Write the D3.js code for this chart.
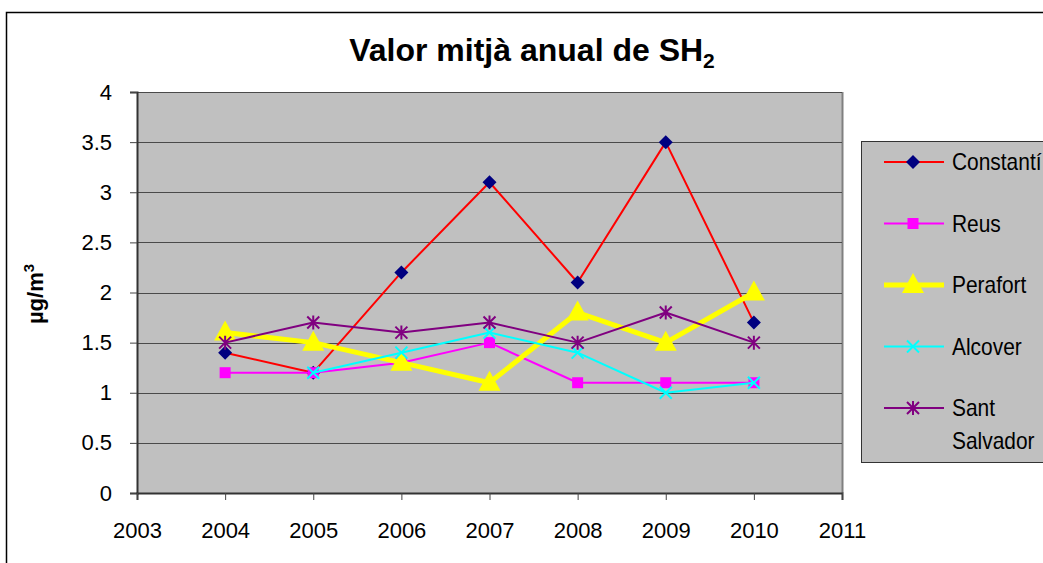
<!DOCTYPE html>
<html>
<head>
<meta charset="utf-8">
<script src="https://cdn.jsdelivr.net/npm/d3@7"></script>
<style>
  body { margin: 0; background: #fff; }
  text { font-family: "Liberation Sans", Arial, sans-serif; }
</style>
</head>
<body>
<script>
// data
var years = [2004, 2005, 2006, 2007, 2008, 2009, 2010];
var xTicks = [2003, 2004, 2005, 2006, 2007, 2008, 2009, 2010, 2011];
var yTicks = [0, 0.5, 1, 1.5, 2, 2.5, 3, 3.5, 4];
var constanti = [1.4, 1.2, 2.2, 3.1, 2.1, 3.5, 1.7];
var reus = [1.2, 1.2, 1.3, 1.5, 1.1, 1.1, 1.1];
var perafort = [1.6, 1.5, 1.3, 1.1, 1.8, 1.5, 2.0];
var alcover = [null, 1.2, 1.4, 1.6, 1.4, 1.0, 1.1];
var santSalvador = [1.5, 1.7, 1.6, 1.7, 1.5, 1.8, 1.5];
var names = ["Constantí", "Reus", "Perafort", "Alcover", "Sant Salvador"];

var series = [
  { name: names[0], values: constanti, line: "#ff0000", mark: "#000080", shape: "diamond", w: 2 },
  { name: names[1], values: reus, line: "#ff00ff", mark: "#ff00ff", shape: "square", w: 2 },
  { name: names[2], values: perafort, line: "#ffff00", mark: "#ffff00", shape: "triangle", w: 5 },
  { name: names[3], values: alcover, line: "#00ffff", mark: "#00ffff", shape: "x", w: 2 },
  { name: names[4], values: santSalvador, line: "#800080", mark: "#800080", shape: "star", w: 2 }
];

var W = 1043, H = 563;
var plot = { left: 137, right: 842, top: 92, bottom: 493 };

var svg = d3.select("body").append("svg")
  .attr("width", W)
  .attr("height", H);

// outer chart border
svg.append("rect")
  .attr("x", 6.5).attr("y", 12.5)
  .attr("width", W + 10).attr("height", H + 10)
  .attr("fill", "#fff").attr("stroke", "#000").attr("stroke-width", 1.5);

var x = d3.scaleLinear().domain([2003, 2011]).range([plot.left, plot.right]);
var y = d3.scaleLinear().domain([0, 4]).range([plot.bottom, plot.top]);

// plot area
svg.append("rect")
  .attr("x", plot.left).attr("y", plot.top)
  .attr("width", plot.right - plot.left).attr("height", plot.bottom - plot.top)
  .attr("fill", "#c0c0c0");
svg.append("line")
  .attr("x1", plot.right + 0.5).attr("x2", plot.right + 0.5)
  .attr("y1", plot.top).attr("y2", plot.bottom)
  .attr("stroke", "#808080").attr("stroke-width", 2);

// gridlines
svg.append("g").selectAll("line").data(yTicks.slice(1)).enter()
  .append("line")
  .attr("x1", plot.left).attr("x2", plot.right)
  .attr("y1", function (d) { return Math.round(y(d)) + 0.5; })
  .attr("y2", function (d) { return Math.round(y(d)) + 0.5; })
  .attr("stroke", "#4a4a4a").attr("stroke-width", 1.2);

// axes
var yAxis = svg.append("g")
  .attr("transform", "translate(" + plot.left + ",0)")
  .call(d3.axisLeft(y).tickValues(yTicks).tickFormat(d3.format("")).tickSize(7).tickPadding(18));
var xAxis = svg.append("g")
  .attr("transform", "translate(0," + plot.bottom + ")")
  .call(d3.axisBottom(x).tickValues(xTicks).tickFormat(d3.format("d")).tickSize(7).tickPadding(22));

[yAxis, xAxis].forEach(function (a) {
  a.select(".domain").attr("stroke", "#333").attr("stroke-width", 2);
  a.selectAll(".tick line").attr("stroke", "#444");
  a.selectAll(".tick text")
    .attr("fill", "#000")
    .style("font-size", "22px")
    .style("font-family", "'Liberation Sans', Arial, sans-serif");
});

// marker shapes
function markerPath(shape) {
  if (shape === "diamond") return "M0,-7L7,0L0,7L-7,0Z";
  if (shape === "square") return "M-5.5,-5.5H5.5V5.5H-5.5Z";
  if (shape === "triangle") return "M0,-12L11,8H-11Z";
  if (shape === "x") return "M-6,-6L6,6M-6,6L6,-6";
  return "M-6,-6L6,6M-6,6L6,-6M0,-7V7";
}
function drawMarker(sel, s) {
  var stroked = s.shape === "x" || s.shape === "star";
  sel.append("path")
    .attr("d", markerPath(s.shape))
    .attr("fill", stroked ? "none" : s.mark)
    .attr("stroke", s.mark)
    .attr("stroke-width", stroked ? 2 : 0);
}

var line = d3.line()
  .defined(function (d) { return d.v != null; })
  .x(function (d) { return x(d.year); })
  .y(function (d) { return y(d.v); });

series.forEach(function (s) {
  var pts = years.map(function (yr, i) { return { year: yr, v: s.values[i] }; });
  var g = svg.append("g");
  g.append("path")
    .datum(pts)
    .attr("d", line)
    .attr("fill", "none")
    .attr("stroke", s.line)
    .attr("stroke-width", s.w)
    .attr("stroke-linejoin", "round");
  g.selectAll("g.pt").data(pts.filter(function (d) { return d.v != null; })).enter()
    .append("g")
    .attr("class", "pt")
    .attr("transform", function (d) { return "translate(" + x(d.year) + "," + y(d.v) + ")"; })
    .each(function () { drawMarker(d3.select(this), s); });
});

// title
var title = svg.append("text")
  .attr("x", 532).attr("y", 61)
  .attr("text-anchor", "middle")
  .style("font-size", "32px").style("font-weight", "bold");
title.append("tspan").text("Valor mitjà anual de SH");
title.append("tspan").attr("dy", 7).style("font-size", "21px").text("2");

// y axis title
var yt = svg.append("text")
  .attr("transform", "translate(43,294) rotate(-90)")
  .attr("text-anchor", "middle")
  .style("font-size", "22px").style("font-weight", "bold");
yt.append("tspan").text("µg/m");
yt.append("tspan").attr("dy", -9).style("font-size", "15px").text("3");

// legend
var leg = svg.append("g");
leg.append("rect")
  .attr("x", 861.5).attr("y", 141.5)
  .attr("width", 200).attr("height", 321)
  .attr("fill", "#c0c0c0").attr("stroke", "#333").attr("stroke-width", 1);
series.forEach(function (s, i) {
  var cy = 162 + i * 61.5;
  var e = leg.append("g").attr("transform", "translate(0," + cy + ")");
  e.append("line").attr("x1", 884).attr("x2", 944)
    .attr("stroke", s.line).attr("stroke-width", s.w);
  var m = e.append("g").attr("transform", "translate(913,0)");
  drawMarker(m, s);
  var words = s.name === "Sant Salvador" ? ["Sant", "Salvador"] : [s.name];
  words.forEach(function (w, j) {
    e.append("g")
      .attr("transform", "translate(952," + (8 + j * 33) + ") scale(0.91,1)")
      .append("text")
      .style("font-size", "23px")
      .text(w);
  });
});
</script>
</body>
</html>
